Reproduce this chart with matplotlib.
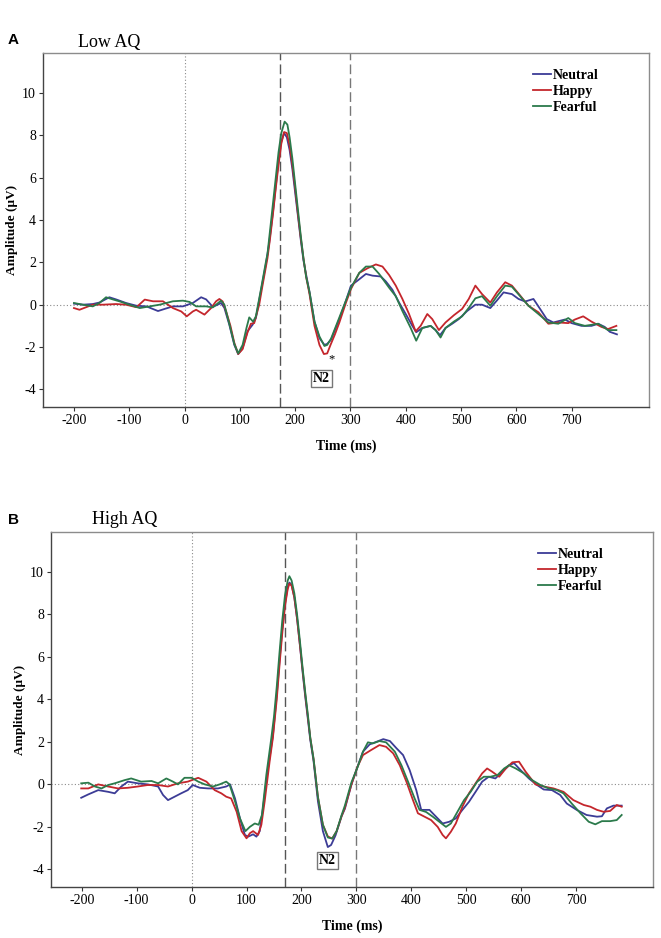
import matplotlib
matplotlib.use("Agg")
import matplotlib.pyplot as plt

# ---- Panel A: Low AQ (time in ms, amplitude in uV) ----
a_neutral_t = [-200, -184, -166, -154, -136, -124, -106, -87, -69, -48, -36, -21, -3, 15, 30, 39, 51, 60, 66, 72,
               81, 90, 97, 105, 114, 123, 129, 138, 147, 153, 160, 165, 170, 175, 180, 185, 190, 195, 200, 205,
               210, 215, 220, 226, 235, 244, 253, 258, 265, 280, 292, 301, 316, 328, 340, 355, 364, 376, 388, 400,
               412, 419, 430, 445, 454, 462, 472, 484, 496, 511, 526, 538, 553, 565, 577, 592, 604, 616, 631, 643,
               655, 667, 688, 700, 718, 736, 748, 760, 769, 782]
a_neutral_v = [0.05, 0.0, 0.03, 0.1, 0.35, 0.25, 0.08, -0.05, -0.08, -0.3, -0.2, -0.08, -0.08, 0.08, 0.35, 0.25, -0.1, 0.0, 0.08, -0.15,
               -0.95, -1.9, -2.33, -2.05, -1.25, -0.95, -0.63, 0.63, 1.9, 2.9, 4.4, 5.6, 6.8, 7.7, 8.1, 7.9, 7.3, 6.4, 5.3, 4.2,
               3.1, 2.1, 1.4, 0.6, -0.8, -1.58, -1.9, -1.85, -1.65, -0.68, 0.2, 0.9, 1.2, 1.45, 1.37, 1.33, 1.1, 0.7, 0.1, -0.44,
               -1.0, -1.3, -1.1, -1.0, -1.2, -1.44, -1.1, -0.9, -0.68, -0.3, 0.0, 0.0, -0.16, 0.2, 0.58, 0.5, 0.27, 0.15, 0.27, -0.2,
               -0.68, -0.84, -0.7, -0.87, -1.0, -1.0, -0.9, -1.05, -1.28, -1.4]

a_happy_t = [-200, -190, -178, -166, -148, -124, -106, -87, -72, -57, -39, -21, -6, 4, 15, 21, 36, 48, 57, 63,
             69, 75, 83, 90, 97, 105, 114, 120, 126, 135, 141, 150, 155, 160, 165, 170, 175, 180, 185, 190,
             195, 200, 205, 210, 215, 220, 226, 235, 244, 252, 258, 264, 272, 280, 292, 301, 316, 331, 346, 358,
             370, 382, 394, 406, 418, 427, 439, 448, 460, 472, 487, 502, 514, 526, 538, 553, 565, 580, 592, 607,
             622, 640, 658, 676, 694, 706, 721, 736, 754, 766, 781]
a_happy_v = [-0.16, -0.24, -0.12, 0.0, 0.0, 0.03, 0.0, -0.12, 0.24, 0.16, 0.16, -0.16, -0.32, -0.55, -0.32, -0.24, -0.47, -0.16, 0.16, 0.27,
             0.15, -0.3, -1.0, -1.8, -2.33, -2.1, -1.3, -0.9, -0.87, 0.0, 0.9, 2.2, 3.2, 4.3, 5.5, 6.6, 7.6, 8.15, 8.1, 7.5,
             6.6, 5.5, 4.3, 3.2, 2.2, 1.3, 0.5, -1.0, -1.9, -2.33, -2.3, -1.9, -1.4, -0.84, 0.1, 0.74, 1.5, 1.72, 1.9, 1.8,
             1.4, 0.9, 0.27, -0.44, -1.26, -1.0, -0.44, -0.68, -1.2, -0.84, -0.5, -0.2, 0.27, 0.9, 0.5, 0.1, 0.58, 1.06, 0.9, 0.43,
             -0.05, -0.36, -0.9, -0.84, -0.87, -0.7, -0.55, -0.8, -1.05, -1.15, -1.0]

a_fearful_t = [-200, -184, -166, -154, -142, -130, -118, -100, -81, -63, -45, -21, -3, 9, 21, 39, 51, 66, 72, 81,
               90, 97, 105, 112, 117, 124, 129, 138, 147, 150, 155, 160, 165, 170, 175, 181, 186, 190, 195, 200,
               205, 210, 215, 220, 226, 235, 244, 253, 258, 265, 280, 292, 301, 316, 328, 340, 352, 370, 382, 394,
               409, 419, 430, 445, 454, 463, 472, 487, 502, 514, 526, 538, 553, 565, 580, 592, 607, 622, 640, 658,
               676, 694, 706, 724, 748, 766, 781]
a_fearful_v = [0.08, 0.0, -0.08, 0.08, 0.35, 0.25, 0.16, 0.0, -0.16, -0.08, 0.0, 0.16, 0.19, 0.13, -0.08, -0.08, -0.13, 0.19, 0.0, -0.9,
               -1.85, -2.3, -1.9, -1.1, -0.6, -0.8, -0.55, 0.7, 2.0, 2.4, 3.6, 4.8, 6.0, 7.2, 8.1, 8.64, 8.5, 7.9, 6.9, 5.7,
               4.5, 3.3, 2.2, 1.3, 0.6, -0.8, -1.5, -1.95, -1.9, -1.6, -0.6, 0.2, 0.8, 1.5, 1.8, 1.8, 1.45, 0.8, 0.4, -0.3,
               -1.1, -1.7, -1.1, -1.0, -1.2, -1.55, -1.1, -0.8, -0.55, -0.15, 0.3, 0.4, -0.05, 0.4, 0.9, 0.85, 0.4, -0.05, -0.44, -0.84,
               -0.9, -0.63, -0.87, -1.0, -0.9, -1.2, -1.2]

# ---- Panel B: High AQ ----
b_neutral_t = [-201, -188, -170, -152, -140, -128, -116, -98, -80, -61, -52, -43, -31, -19, -7, 2, 15, 30, 48, 63,
               70, 79, 88, 97, 103, 112, 118, 124, 130, 139, 148, 155, 160, 165, 170, 175, 178, 182, 187, 192,
               197, 202, 207, 212, 216, 222, 230, 239, 248, 254, 262, 273, 279, 291, 302, 312, 324, 336, 349, 361,
               373, 385, 397, 409, 418, 433, 445, 457, 469, 481, 493, 505, 517, 529, 541, 553, 566, 578, 587, 599,
               614, 629, 641, 656, 671, 683, 701, 719, 738, 747, 756, 768, 783]
b_neutral_v = [-0.63, -0.47, -0.27, -0.35, -0.42, -0.1, 0.13, 0.05, 0.0, -0.1, -0.5, -0.74, -0.58, -0.42, -0.27, -0.03, -0.16, -0.19, -0.19, -0.1,
               0.0, -0.66, -1.6, -2.38, -2.46, -2.35, -2.46, -2.2, -1.1, 0.75, 2.3, 4.2, 5.8, 7.3, 8.5, 9.3, 9.5, 9.4, 8.8, 7.8,
               6.6, 5.3, 4.1, 3.0, 2.1, 1.1, -0.8, -2.2, -2.95, -2.85, -2.4, -1.5, -1.15, 0.0, 0.83, 1.54, 1.88, 2.0, 2.13, 2.04,
               1.7, 1.38, 0.67, -0.27, -1.2, -1.2, -1.52, -1.84, -1.76, -1.6, -1.2, -0.82, -0.35, 0.13, 0.36, 0.28, 0.6, 0.9, 1.0, 0.67,
               0.28, -0.03, -0.24, -0.27, -0.5, -0.9, -1.2, -1.44, -1.52, -1.5, -1.13, -1.0, -1.0]

b_happy_t = [-201, -188, -170, -152, -134, -116, -98, -80, -61, -43, -25, -7, 12, 27, 42, 54, 63, 72, 82, 91,
             100, 106, 112, 121, 127, 133, 142, 148, 155, 160, 165, 170, 175, 178, 182, 187, 192, 197, 202, 207,
             212, 216, 222, 230, 239, 248, 256, 264, 273, 279, 291, 302, 312, 327, 342, 354, 367, 379, 391, 403,
             412, 424, 436, 448, 457, 463, 472, 481, 493, 505, 517, 529, 538, 547, 560, 572, 584, 596, 608, 626,
             641, 659, 677, 695, 714, 726, 738, 750, 762, 774, 783]
b_happy_v = [-0.19, -0.19, 0.0, -0.1, -0.19, -0.16, -0.1, -0.03, -0.03, -0.1, 0.05, 0.13, 0.31, 0.13, -0.27, -0.42, -0.58, -0.66, -1.29, -2.2,
             -2.54, -2.3, -2.2, -2.38, -1.9, -0.8, 1.07, 2.2, 4.0, 5.6, 7.1, 8.4, 9.2, 9.45, 9.35, 8.8, 7.8, 6.6, 5.4, 4.2,
             3.1, 2.2, 1.2, -0.6, -1.9, -2.45, -2.55, -2.2, -1.5, -1.1, 0.0, 0.83, 1.38, 1.62, 1.85, 1.77, 1.46, 0.9, 0.13, -0.74,
             -1.36, -1.52, -1.68, -2.0, -2.38, -2.54, -2.23, -1.84, -1.05, -0.42, 0.05, 0.52, 0.75, 0.6, 0.36, 0.75, 1.04, 1.07, 0.6, 0.0,
             -0.1, -0.19, -0.35, -0.74, -0.97, -1.05, -1.2, -1.29, -1.25, -0.97, -1.05]

b_fearful_t = [-201, -188, -176, -164, -152, -140, -122, -110, -92, -73, -61, -46, -34, -25, -13, 0, 12, 24, 39, 51,
               63, 69, 79, 88, 98, 106, 115, 122, 128, 136, 145, 150, 155, 160, 165, 170, 175, 178, 182, 187,
               192, 197, 202, 207, 212, 216, 222, 230, 239, 248, 256, 264, 273, 279, 291, 302, 312, 321, 330, 342,
               354, 370, 382, 394, 406, 415, 427, 439, 451, 463, 472, 484, 496, 508, 520, 532, 544, 557, 569, 578,
               590, 605, 620, 635, 650, 665, 677, 692, 708, 723, 735, 747, 762, 774, 783]
b_fearful_v = [0.05, 0.08, -0.1, -0.19, -0.03, 0.05, 0.2, 0.28, 0.13, 0.16, 0.05, 0.28, 0.13, 0.0, 0.31, 0.31, 0.13, 0.0, -0.1, 0.0,
               0.13, 0.0, -0.8, -1.6, -2.2, -2.0, -1.84, -1.9, -1.44, 0.44, 2.16, 3.2, 4.6, 6.2, 7.7, 8.9, 9.6, 9.8, 9.6, 9.0,
               8.0, 6.8, 5.5, 4.3, 3.2, 2.2, 1.2, -0.6, -1.9, -2.5, -2.55, -2.2, -1.45, -1.0, 0.1, 0.8, 1.54, 1.98, 1.93, 2.04,
               1.98, 1.54, 0.9, 0.13, -0.66, -1.2, -1.3, -1.52, -1.76, -2.0, -1.84, -1.29, -0.74, -0.35, 0.13, 0.36, 0.36, 0.44, 0.75, 0.9,
               0.75, 0.52, 0.2, -0.03, -0.19, -0.27, -0.42, -0.9, -1.36, -1.76, -1.88, -1.73, -1.73, -1.68, -1.44]

conditions = ["Neutral", "Happy", "Fearful"]
colors = ["#3c3c96", "#c4262c", "#2b7a4b"]
xticks = [-200, -100, 0, 100, 200, 300, 400, 500, 600, 700]
yticks = [-4, -2, 0, 2, 4, 6, 8, 10]

SERIF = "Liberation Serif"

fig = plt.figure(figsize=(6.61, 9.38), dpi=100)


def draw_panel(rect, series, win_start, n2_xy, star_xy):
    ax = fig.add_axes(rect)
    ax.set_xlim(-256, 840)
    ax.set_ylim(-4.83, 11.88)
    # reference lines
    ax.axhline(0, color="#8a8a8a", lw=0.8, ls=(0, (1, 2)), zorder=1)
    ax.axvline(0, color="#8a8a8a", lw=0.8, ls=(0, (1, 2)), zorder=1)
    ax.axvline(win_start, color="#555555", lw=1.0, ls=(0, (7, 3)), zorder=1)
    ax.axvline(300, color="#777777", lw=1.0, ls=(0, (7, 3)), zorder=1)
    for (t, v), name, c in zip(series, conditions, colors):
        ax.plot(t, v, color=c, lw=1.3, label=name, zorder=3)
    ax.set_xticks(xticks)
    ax.set_yticks(yticks)
    ax.set_xticklabels([str(x) for x in xticks], fontfamily=SERIF, fontsize=10)
    ax.set_yticklabels([str(y) for y in yticks], fontfamily=SERIF, fontsize=10)
    ax.tick_params(direction="out", length=3, width=0.8, color="#333333", pad=2)
    for side in ["top", "right"]:
        ax.spines[side].set_color("#8c8c8c")
        ax.spines[side].set_linewidth(1.0)
    for side in ["left", "bottom"]:
        ax.spines[side].set_color("#444444")
        ax.spines[side].set_linewidth(1.0)
    ax.set_xlabel("Time (ms)", fontfamily=SERIF, fontweight="bold", fontsize=10, labelpad=9)
    ax.set_ylabel("Amplitude (\u03bcV)", fontfamily=SERIF, fontweight="bold", fontsize=9.5, labelpad=3)
    ax.text(n2_xy[0], n2_xy[1], "N2", fontfamily=SERIF, fontweight="bold", fontsize=10,
            ha="center", va="center",
            bbox=dict(boxstyle="square,pad=0.15", fc="white", ec="#777777", lw=1.0))
    if star_xy is not None:
        ax.text(star_xy[0], star_xy[1], "*", fontfamily=SERIF, fontsize=9, ha="center", va="center")
    leg = ax.legend(loc="upper left", bbox_to_anchor=(0.797, 0.975), frameon=False,
                    handlelength=1.3, handletextpad=0.15, labelspacing=0.22, borderpad=0,
                    prop={"family": SERIF, "weight": "bold", "size": 10})
    for h in leg.get_lines():
        h.set_linewidth(1.3)
    return ax


draw_panel([43 / 661, 1 - 407 / 938, 606 / 661, 354 / 938],
           [(a_neutral_t, a_neutral_v), (a_happy_t, a_happy_v), (a_fearful_t, a_fearful_v)],
           172, (248, -3.5), (266, -2.6))
draw_panel([51 / 661, 1 - 887 / 938, 602 / 661, 355 / 938],
           [(b_neutral_t, b_neutral_v), (b_happy_t, b_happy_v), (b_fearful_t, b_fearful_v)],
           170, (247, -3.6), None)

fig.text(8 / 661, 1 - 40 / 938, "A", fontfamily="Liberation Sans", fontweight="bold", fontsize=11, va="center")
fig.text(78 / 661, 1 - 42 / 938, "Low AQ", fontfamily=SERIF, fontsize=13, va="center")
fig.text(8 / 661, 1 - 520 / 938, "B", fontfamily="Liberation Sans", fontweight="bold", fontsize=11, va="center")
fig.text(92 / 661, 1 - 520 / 938, "High AQ", fontfamily=SERIF, fontsize=13, va="center")

fig.savefig("out.png", dpi=100, facecolor="white")
